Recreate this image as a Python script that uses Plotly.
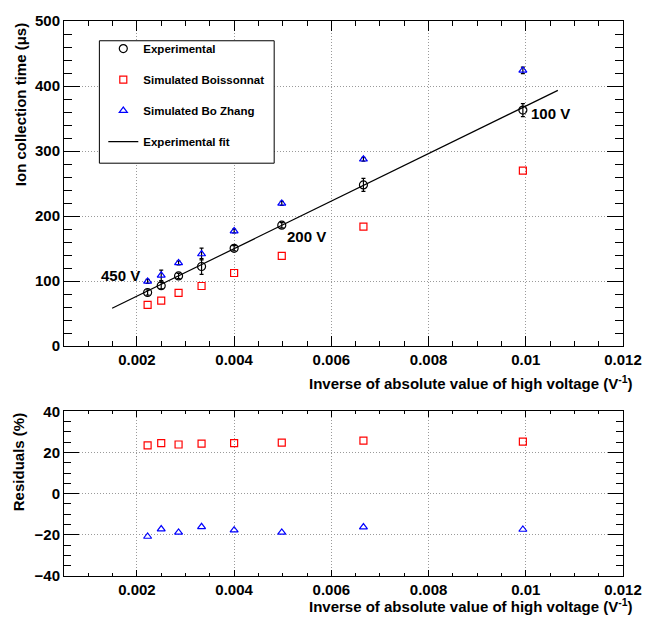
import plotly.graph_objects as go

# ---- data ----
inv_hv = [0.00222, 0.00250, 0.002857, 0.00333, 0.00400, 0.00498, 0.00666, 0.00994]
exp_time = [82.5, 93.0, 108.0, 122.5, 150.5, 186.0, 248.0, 363.0]
exp_err = [4, 5, 4, 12, 4, 4, 10, 10]
sim_boiss = [63.5, 70.0, 82.0, 92.5, 112.5, 139.0, 183.7, 270.0]
sim_zhang = [99.6, 109.0, 128.0, 141.7, 177.0, 219.6, 287.4, 424.0]
zhang_err = [3, 8, 3, 9, 3, 3, 3, 5]
fit_x = [0.00149, 0.01066]
fit_y = [58.2, 393.3]
res_boiss = [23.5, 24.6, 23.9, 24.3, 24.6, 24.8, 25.8, 25.3]
res_zhang = [-20.8, -17.2, -18.8, -16.1, -17.7, -18.8, -16.2, -17.4]

x_tickvals = [0.002, 0.004, 0.006, 0.008, 0.010, 0.012]
x_ticktext = ["0.002", "0.004", "0.006", "0.008", "0.01", "0.012"]
y1_tickvals = [0, 100, 200, 300, 400, 500]
y2_tickvals = [-40, -20, 0, 20, 40]

FONT = "Liberation Sans"
BLACK = "#000000"
RED = "#ff0000"
BLUE = "#0000ff"
GRID = "#9a9a9a"
GRIDDASH = "1px,2px"

fig = go.Figure()

fig.add_trace(go.Scatter(
    x=inv_hv, y=exp_time, mode="markers", name="Experimental",
    legendgroup="g1",
    marker=dict(symbol="circle-open", size=8, color=BLACK, line=dict(width=1.2)),
    error_y=dict(type="data", array=exp_err, visible=True, color=BLACK, thickness=1.2, width=2),
    xaxis="x", yaxis="y"))
fig.add_trace(go.Scatter(
    x=inv_hv, y=sim_boiss, mode="markers", name="Simulated Boissonnat",
    legendgroup="g2",
    marker=dict(symbol="square-open", size=7, color=RED, line=dict(width=1.2)),
    xaxis="x", yaxis="y"))
fig.add_trace(go.Scatter(
    x=inv_hv, y=sim_zhang, mode="markers", name="Simulated Bo Zhang",
    legendgroup="g3",
    marker=dict(symbol="triangle-up-open", size=7, color=BLUE, line=dict(width=1.2)),
    error_y=dict(type="data", array=zhang_err, visible=True, color=BLACK, thickness=1.2, width=2),
    xaxis="x", yaxis="y"))
fig.add_trace(go.Scatter(
    x=fit_x, y=fit_y, mode="lines", name="Experimental fit",
    legendgroup="g4",
    line=dict(color=BLACK, width=1.2),
    xaxis="x", yaxis="y"))

fig.add_trace(go.Scatter(
    x=inv_hv, y=res_boiss, mode="markers", showlegend=False,
    marker=dict(symbol="square-open", size=7, color=RED, line=dict(width=1.2)),
    xaxis="x2", yaxis="y2"))
fig.add_trace(go.Scatter(
    x=inv_hv, y=res_zhang, mode="markers", showlegend=False,
    marker=dict(symbol="triangle-up-open", size=7, color=BLUE, line=dict(width=1.2)),
    xaxis="x2", yaxis="y2"))

tickfont = dict(family=FONT, size=15, color=BLACK, weight="bold")

def xax(domain_anchor, major, minor, standoff):
    return dict(
        range=[0.0005, 0.012], tickmode="array", tickvals=x_tickvals, ticktext=x_ticktext,
        ticks="inside", ticklen=major, tickwidth=1, tickcolor=BLACK,
        minor=dict(tickmode="linear", tick0=0, dtick=0.0005, ticks="inside", ticklen=minor,
                   tickcolor=BLACK, showgrid=False),
        showgrid=True, gridcolor=GRID, griddash=GRIDDASH, gridwidth=1,
        showline=True, linecolor=BLACK, linewidth=1, mirror="ticks",
        zeroline=False, tickfont=tickfont, anchor=domain_anchor, ticklabelstandoff=standoff)

def yax(rng, vals, mdt, domain, major, minor, anchor):
    return dict(
        range=rng, tickmode="array", tickvals=vals, domain=domain,
        ticks="inside", ticklen=major, tickwidth=1, tickcolor=BLACK,
        minor=dict(tickmode="linear", tick0=0, dtick=mdt, ticks="inside", ticklen=minor,
                   tickcolor=BLACK, showgrid=False),
        showgrid=True, gridcolor=GRID, griddash=GRIDDASH, gridwidth=1,
        showline=True, linecolor=BLACK, linewidth=1, mirror="ticks",
        zeroline=False, tickfont=tickfont, anchor=anchor, ticklabelstandoff=0)

fig.update_layout(
    width=654, height=619,
    margin=dict(l=64, r=21, t=14, b=43),
    paper_bgcolor="white", plot_bgcolor="white",
    xaxis=xax("y", 10, 5, 0),
    yaxis=yax([0, 500], y1_tickvals, 20, [0.4141, 1.0], 16, 8, "x"),
    xaxis2=xax("y2", 6, 3, 0),
    yaxis2=yax([-40, 40], y2_tickvals, 5, [0.0, 0.2966], 15, 7, "x2"),
    showlegend=True,
    legend=dict(x=0.0703, y=0.9765, xanchor="left", yanchor="top",
                bgcolor="rgba(0,0,0,0)", borderwidth=0,
                font=dict(family=FONT, size=11.5, color=BLACK, weight="bold"),
                tracegroupgap=12, itemwidth=30),
)
fig.update_layout(xaxis2=dict(matches="x"))

# legend box
fig.add_shape(type="rect", xref="paper", yref="paper",
              x0=0.0633, x1=0.376, y0=0.7438, y1=0.9644,
              line=dict(color=BLACK, width=1), fillcolor="white", layer="above")

afont = dict(family=FONT, size=15, color=BLACK, weight="bold")
lfont = dict(family=FONT, size=15, color=BLACK, weight="bold")
anns = [
    dict(text="Inverse of absolute value of high voltage (V<sup>-1</sup>)", xref="paper", yref="paper",
         x=1.021, y=0.3479, xanchor="right", yanchor="middle", showarrow=False, font=afont),
    dict(text="Inverse of absolute value of high voltage (V<sup>-1</sup>)", xref="paper", yref="paper",
         x=1.021, y=-0.053, xanchor="right", yanchor="middle", showarrow=False, font=afont),
    dict(text="Ion collection time (\u03bcs)", xref="paper", yref="paper",
         x=-0.0775, y=1.0, xanchor="center", yanchor="top", textangle=-90, showarrow=False, font=afont),
    dict(text="Residuals (%)", xref="paper", yref="paper",
         x=-0.0808, y=0.2966, xanchor="center", yanchor="top", textangle=-90, showarrow=False, font=afont),
    dict(text="450 V", xref="x", yref="y", x=0.00167, y=108, showarrow=False, font=lfont),
    dict(text="200 V", xref="x", yref="y", x=0.00549, y=168, showarrow=False, font=lfont),
    dict(text="100 V", xref="x", yref="y", x=0.01051, y=357.7, showarrow=False, font=lfont),
]
fig.update_layout(annotations=anns)

fig.write_html("out.html")
